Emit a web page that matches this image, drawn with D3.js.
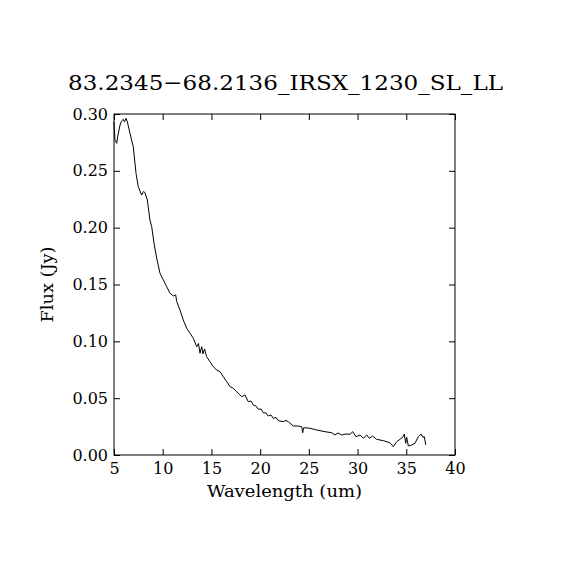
<!DOCTYPE html>
<html>
<head>
<meta charset="utf-8">
<script src="https://cdn.jsdelivr.net/npm/d3@7"></script>
<style>
  body { margin: 0; background: #fff; }
  text { font-family: "DejaVu Serif", serif; fill: #000; }
</style>
</head>
<body>
<div id="spectrum"></div>
<script>
// chart text
const chartTitle = "83.2345\u221268.2136_IRSX_1230_SL_LL";
const xLabel = "Wavelength (um)";
const yLabel = "Flux (Jy)";

// tick values
const xTicks = [5, 10, 15, 20, 25, 30, 35, 40];
const yTicks = [0, 0.05, 0.10, 0.15, 0.20, 0.25, 0.30];

// spectrum
const wavelength = [
  5.00, 5.10, 5.28, 5.41, 5.62, 5.77, 5.95, 6.08, 6.23, 6.37, 6.64, 6.98, 7.26, 7.49,
  7.84, 8.03, 8.18, 8.42, 8.69, 8.87, 9.11, 9.38, 9.72, 10.06, 10.41, 10.75, 11.09,
  11.33, 11.44, 11.77, 12.11, 12.46, 12.80, 13.14, 13.49, 13.67, 13.83, 14.00, 14.13,
  14.29, 14.51, 14.85, 15.19, 15.54, 15.88, 16.22, 16.57, 16.91, 17.24, 17.52, 17.76,
  18.11, 18.45, 18.78, 19.06, 19.30, 19.57, 19.81, 20.09, 20.32, 20.60, 20.84, 21.11,
  21.35, 21.63, 21.86, 22.38, 22.65, 22.89, 23.40, 23.89, 24.27, 24.37, 24.45, 24.60,
  25.12, 25.80, 26.66, 27.34, 27.68, 27.99, 28.37, 28.81, 29.22, 29.50, 29.84, 30.25,
  30.59, 30.94, 31.20, 31.55, 31.96, 32.64, 33.33, 33.67, 34.02, 34.35, 34.69, 34.80,
  34.94, 35.04, 35.21, 35.56, 35.89, 36.23, 36.51, 36.69, 36.85, 37.00
];
const flux = [
  0.2932, 0.2771, 0.2742, 0.2815, 0.2903, 0.2938, 0.2953, 0.2930, 0.2962, 0.2932, 0.2830,
  0.2712, 0.2478, 0.2360, 0.2287, 0.2318, 0.2308, 0.2243, 0.2068, 0.2008, 0.1862, 0.1733,
  0.1599, 0.1540, 0.1481, 0.1423, 0.1399, 0.1408, 0.1349, 0.1276, 0.1188, 0.1115, 0.1071,
  0.1027, 0.0953, 0.0981, 0.0895, 0.0953, 0.0889, 0.0933, 0.0865, 0.0821, 0.0777, 0.0748,
  0.0733, 0.0689, 0.0645, 0.0601, 0.0587, 0.0563, 0.0543, 0.0513, 0.0528, 0.0469, 0.0475,
  0.0440, 0.0431, 0.0402, 0.0405, 0.0372, 0.0370, 0.0343, 0.0352, 0.0323, 0.0330, 0.0302,
  0.0293, 0.0304, 0.0293, 0.0255, 0.0255, 0.0249, 0.0196, 0.0238, 0.0240, 0.0235, 0.0220,
  0.0205, 0.0196, 0.0176, 0.0194, 0.0176, 0.0185, 0.0182, 0.0205, 0.0161, 0.0176, 0.0147,
  0.0176, 0.0147, 0.0167, 0.0138, 0.0126, 0.0108, 0.0073, 0.0117, 0.0138, 0.0161, 0.0185,
  0.0103, 0.0156, 0.0079, 0.0088, 0.0103, 0.0161, 0.0185, 0.0156, 0.0161, 0.0088
];

const margin = { top: 114, right: 115, bottom: 115, left: 114 },
  width = 570 - margin.left - margin.right,
  height = 570 - margin.top - margin.bottom;

const svg = d3
  .select("#spectrum")
  .append("svg")
  .attr("width", 570)
  .attr("height", 570);

const g = svg.append("g").attr("transform", `translate(${margin.left},${margin.top})`);

const x = d3.scaleLinear().domain([5, 40]).range([0, width]);
const y = d3.scaleLinear().domain([0, 0.30]).range([height, 0]);

// inward ticks on all four sides, labels only bottom and left
function styleAxis(sel) {
  sel.select(".domain").remove();
  sel.selectAll("line").attr("stroke", "#000").attr("stroke-width", 1);
  sel.selectAll("text").style("font-size", "16px").attr("fill", "#000");
}

g.append("g")
  .attr("transform", `translate(0,${height})`)
  .call(d3.axisBottom(x).tickValues(xTicks).tickSizeInner(-6).tickSizeOuter(0).tickPadding(8).tickFormat(d3.format("d")))
  .call(styleAxis);
g.append("g")
  .call(d3.axisTop(x).tickValues(xTicks).tickSizeInner(-6).tickSizeOuter(0).tickFormat(""))
  .call(styleAxis);
g.append("g")
  .call(d3.axisLeft(y).tickValues(yTicks).tickSizeInner(-6).tickSizeOuter(0).tickPadding(6).tickFormat(d3.format(".2f")))
  .call(styleAxis);
g.append("g")
  .attr("transform", `translate(${width},0)`)
  .call(d3.axisRight(y).tickValues(yTicks).tickSizeInner(-6).tickSizeOuter(0).tickFormat(""))
  .call(styleAxis);

// frame
g.append("rect")
  .attr("width", width)
  .attr("height", height)
  .attr("fill", "none")
  .attr("stroke", "#000")
  .attr("stroke-width", 1);

// spectrum line
const pts = wavelength.map((w, i) => [w, flux[i]]);
g.append("path")
  .datum(pts)
  .attr("fill", "none")
  .attr("stroke", "#000")
  .attr("stroke-width", 1)
  .attr("d", d3.line().x((d) => x(d[0])).y((d) => y(d[1])));

// title and axis labels
svg.append("text")
  .attr("x", 285.5)
  .attr("y", 90)
  .attr("text-anchor", "middle")
  .attr("textLength", 435)
  .attr("lengthAdjust", "spacingAndGlyphs")
  .style("font-size", "21px")
  .text(chartTitle);

svg.append("text")
  .attr("x", margin.left + width / 2)
  .attr("y", 497)
  .attr("text-anchor", "middle")
  .attr("textLength", 155)
  .attr("lengthAdjust", "spacingAndGlyphs")
  .style("font-size", "16px")
  .text(xLabel);

svg.append("text")
  .attr("transform", `translate(53,${margin.top + height / 2}) rotate(-90)`)
  .attr("text-anchor", "middle")
  .attr("textLength", 76)
  .attr("lengthAdjust", "spacingAndGlyphs")
  .style("font-size", "16px")
  .text(yLabel);
</script>
</body>
</html>
